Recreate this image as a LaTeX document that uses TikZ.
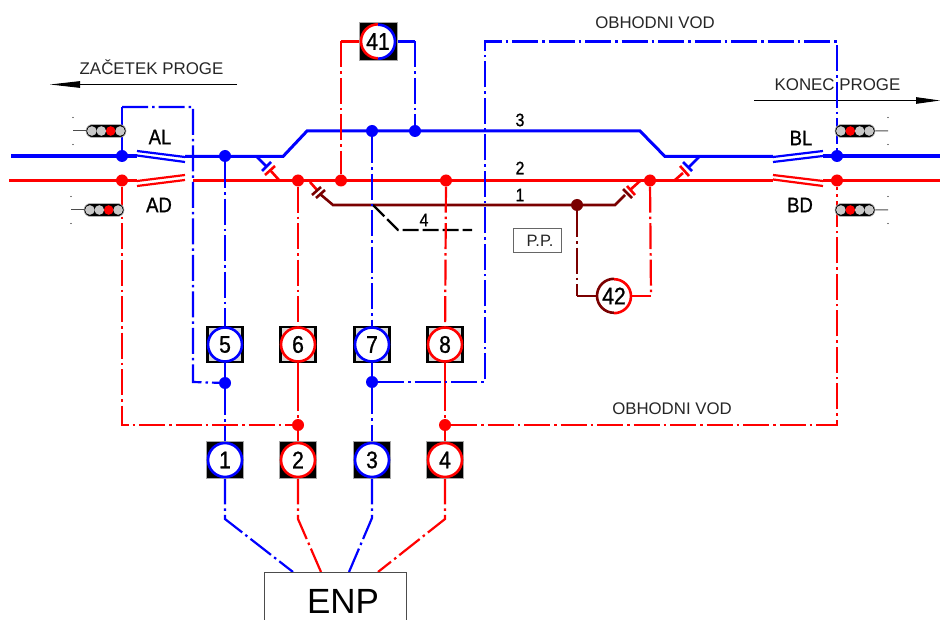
\documentclass[tikz,border=0pt]{standalone}
\usepackage{fontspec}
\setmainfont{Liberation Sans}
\newfontfamily\lbl[FakeStretch=0.88,FakeBold=1]{Liberation Sans}
\usetikzlibrary{arrows.meta,shapes.misc,backgrounds}
\definecolor{tb}{HTML}{0000FF}
\definecolor{tr}{HTML}{FF0000}
\definecolor{td}{HTML}{7A0000}
\definecolor{lamp}{HTML}{C8C8C8}
\tikzset{
  x=1pt,y=-1pt,
  feed/.style={line width=2.2pt,dash pattern=on 26pt off 4pt on 2.5pt off 4pt},
  wire/.style={line width=2.2pt},
  track/.style={line width=3pt,line join=miter},
  heavy/.style={line width=4.5pt},
  dbl/.style={line width=2.2pt},
  joint/.style={line width=2.6pt},
  dot/.style={circle,inner sep=0pt,minimum size=12pt,fill=#1},
  padlow/.style={rectangle,minimum size=37pt,inner sep=0pt,fill=black,draw=gray!70,line width=.7pt},
  padhigh/.style={rectangle,minimum size=35pt,inner sep=0pt,fill=white!85!black,draw=black,line width=2.4pt},
  ring/.style={circle,minimum size=34pt,inner sep=0pt,fill=white,draw=#1,line width=2.6pt,font=\lbl\fontsize{24}{24}\selectfont},
  bare/.style={circle,minimum size=34pt,inner sep=0pt,fill=white,font=\lbl\fontsize{24}{24}\selectfont},
  captext/.style={font=\fontsize{16.9}{17}\selectfont,text=black!85,inner sep=0pt},
  vod/.style={font=\fontsize{16.8}{17}\selectfont,text=black!85,inner sep=0pt},
  tag/.style={font=\lbl\fontsize{21}{21}\selectfont,inner sep=0pt},
  num/.style={font=\lbl\fontsize{18}{18}\selectfont,inner sep=0pt},
  body/.style={rounded rectangle,minimum width=40pt,minimum height=13pt,inner sep=0pt,fill=black,draw=gray!60,line width=.6pt},
  bulb/.style={circle,minimum size=9.6pt,inner sep=0pt,fill=#1},
  stem/.style={line width=1pt,draw=black!70},
}
% name, centre x, centre y, red lamp position, first lamp offset, mast x
\newcommand{\mysignal}[6]{%
  \node[body] (#1) at (#2,#3) {};
  \foreach \k in {0,1,2,3}{
    \pgfmathsetmacro{\lx}{#5+9.4*\k}
    \ifnum\k=#4\relax
      \node[bulb=tr] at ([xshift=\lx pt]#1.center) {};
    \else
      \node[bulb=lamp] at ([xshift=\lx pt]#1.center) {};
    \fi
  }
  \coordinate (#1m) at (#6,#3);
  \draw[stem] (#1) -- (#1m);
  \fill ([yshift=13.5pt]#1m) circle (.6pt) ([yshift=-13.5pt]#1m) circle (.6pt);
}
\begin{document}
\begin{tikzpicture}
\useasboundingbox (0,0) rectangle (940,620);

% ---- dots
\node[dot=tb] (dAL) at (122,156) {};
\node[dot=tb] (d5t) at (225,156) {};
\node[dot=tb] (d7t) at (372,131) {};
\node[dot=tb] (d41) at (415,131) {};
\node[dot=tb] (dBL) at (837,156) {};
\node[dot=tr] (dAD) at (122,180.5) {};
\node[dot=tr] (d6t) at (298,180.5) {};
\node[dot=tr] (d41r) at (341,180.5) {};
\node[dot=tr] (d8t) at (446,180.5) {};
\node[dot=tr] (d42r) at (650,180.5) {};
\node[dot=tr] (dBD) at (837,180.5) {};
\node[dot=td] (d42) at (577,205) {};
\node[dot=tb] (d5b) at (225,383) {};
\node[dot=tb] (d7b) at (372,382) {};
\node[dot=tr] (d6b) at (298,425) {};
\node[dot=tr] (d8b) at (445,425) {};

% ---- pads and numbered circles
\foreach \n/\x/\c in {5/225/tb,6/298/tr,7/372/tb,8/445/tr}{
  \node[padhigh] (s\n) at (\x,344.5) {};
  \node[ring=\c] (n\n) at (\x,344.5) {\n};
}
\foreach \n/\x/\c in {1/225/tb,2/298/tr,3/372/tb,4/445/tr}{
  \node[padlow] (s\n) at (\x,460) {};
  \node[ring=\c] (n\n) at (\x,460) {\n};
}
\node[padlow,minimum size=38pt] (s41) at (378,41.5) {};
\node[bare] (n41) at (378,41.5) {41};
\draw[tr,line width=2.6pt] (n41.north) arc[start angle=90,end angle=270,radius=17pt];
\draw[tb,line width=2.6pt] (n41.south) arc[start angle=-90,end angle=90,radius=17pt];
\node[bare] (n42) at (614,296) {42};
\draw[td,line width=2.6pt] (n42.north) arc[start angle=90,end angle=270,radius=17pt];
\draw[tr,line width=2.6pt] (n42.south) arc[start angle=-90,end angle=90,radius=17pt];

% ---- ENP box
\node[fill=white,minimum width=142pt,minimum height=48pt,inner sep=0pt,anchor=north west] (enp) at (264,572) {};
\draw[draw=black!70,line width=.9pt] (enp.south west) -- (enp.north west) -- (enp.north east) -- (enp.south east);
\node[inner sep=0pt,font=\fontsize{35}{35}\selectfont] (enpt) at (343,601.5) {ENP};

% ---- P.P.
\node[draw=black!60,line width=.9pt,minimum width=48pt,minimum height=24pt,inner sep=0pt] (pp) at (537,240) {};
\node[inner sep=0pt,font=\fontsize{16.5}{17}\selectfont,text=black!85] (ppt) at (540,241) {P.P.};

% ---- signals
\mysignal{sAL}{106}{131}{2}{-14.1}{73}
\mysignal{sAD}{104}{210}{2}{-14.1}{71}
\mysignal{sBL}{855}{131}{1}{-14.1}{888}
\mysignal{sBD}{855}{210}{1}{-14.1}{888}

% ---- captions
\node[captext] (tz) at (151.5,67) {ZAČETEK PROGE};
\node[captext] (tk) at (837.5,84.5) {KONEC PROGE};
\node[vod] (v1) at (655,22.5) {OBHODNI VOD};
\node[vod] (v2) at (672,408.5) {OBHODNI VOD};
\node[tag] (AL) at (160,137) {AL};
\node[tag] (AD) at (159,205) {AD};
\node[tag] (BL) at (801,138) {BL};
\node[tag] (BD) at (800,205) {BD};
\node[num] (t3) at (520,120) {3};
\node[num] (t2) at (520,168) {2};
\node[num] (t1) at (520,195) {1};
\node[num] (t4) at (424,220) {4};

% ---- free ends
\coordinate (zr) at (237,84.5);
\coordinate (zl) at (50,84.5);
\coordinate (kl) at (754,100.5);
\coordinate (kr) at (940,100.5);
\coordinate (bL) at (11,156);
\coordinate (bLe) at (137,156);
\coordinate (bRe) at (823,156);
\coordinate (bR) at (940,156);
\coordinate (rL) at (9,180.5);
\coordinate (rLe) at (137,180.5);
\coordinate (rRe) at (823,180.5);
\coordinate (rR) at (940,180.5);
\coordinate (rm1) at (193,180.5);
\coordinate (rm2) at (773,180.5);

\begin{scope}[on background layer]
% arrows
\draw[line width=.9pt,-{Triangle[length=30pt,width=6.5pt]}] (zr) -- (zl);
\draw[line width=.9pt,-{Triangle[length=24pt,width=6.5pt]}] (kl) -- (kr);
% main tracks
\draw[heavy,tb] (bL) -- (bLe);
\draw[heavy,tb] (bRe) -- (bR);
\draw[track,tb] (185,156.5) -- (283,156.5) -- (307,131) -- (640,131) -- (665,156.5) -- (773,156.5);
\draw[track,tr] (rL) -- (rLe);
\draw[track,tr] (rm1) -- (rm2);
\draw[track,tr] (rRe) -- (rR);
\draw[dbl,tb] (137,151) -- (185,157);
\draw[dbl,tb] (137,155.5) -- (185,162);
\draw[dbl,tr] (137,181) -- (185,175);
\draw[dbl,tr] (137,186) -- (185,180);
\draw[dbl,tb] (773,157) -- (823,151);
\draw[dbl,tb] (773,162) -- (823,156);
\draw[dbl,tr] (773,175) -- (823,181);
\draw[dbl,tr] (773,179.5) -- (823,186);
% crossovers
\draw[joint,tb] (256,156) -- (267,167);
\draw[joint,tb] (262,171) -- (271,162);
\draw[joint,tr] (270,170) -- (279,180);
\draw[joint,tr] (265,175) -- (275,166);
\draw[joint,tb] (699,157) -- (688,168);
\draw[joint,tb] (683,162) -- (692,171);
\draw[joint,tr] (683,173) -- (675,180);
\draw[joint,tr] (680,166) -- (689,176);
\draw[joint,tr] (310,182) -- (317,190);
\draw[joint,td] (312,195) -- (321,187);
\draw[joint,td] (320,194) -- (333,205) -- (615,205) -- (625,195);
\draw[joint,td] (316,198) -- (325,190);
\draw[joint,td] (623,189) -- (632,198);
\draw[joint,tr] (627,186) -- (635,195);
\draw[joint,tr] (630,190) -- (640,181);
% track 4
\coordinate (t4a) at (373,205);
\coordinate (t4b) at (398,230);
\coordinate (t4c) at (472,230);
\draw[line width=2.2pt,dash pattern=on 16pt off 4pt] (t4a) -- (t4b) -- (t4c);
% feeders
\draw[wire,tb] (dAL) -- (122,107);
\draw[feed,tb] (122,107) -- (193,107) -- (193,382) -- (d5b);
\draw[feed,tb] (d5t) -- (s5);
\draw[wire,tb] (s5) -- (d5b);
\draw[feed,tb] (d5b) -- (n1);
\draw[feed,tb] (n1) -- (225,519) -- (293,572);
\draw[feed,tr] (d6t) -- (s6);
\draw[wire,tr] (s6) -- (298,385);
\draw[feed,tr] (298,385) -- (d6b);
\draw[wire,tr] (d6b) -- (n2);
\draw[feed,tr] (n2) -- (298,519) -- (321,572);
\draw[feed,tb] (d7t) -- (s7);
\draw[wire,tb] (s7) -- (d7b);
\draw[feed,tb] (d7b) -- (n3);
\draw[feed,tb] (n3) -- (372,518) -- (349,572);
\draw[feed,tr] (d8t) -- (s8);
\draw[wire,tr] (s8) -- (445,385);
\draw[feed,tr] (445,385) -- (d8b);
\draw[wire,tr] (d8b) -- (n4);
\draw[feed,tr] (n4) -- (445,519) -- (378,572);
% bypass lines
\draw[wire,tb] (n41) -- (415,41.5);
\draw[feed,tb] (415,41.5) -- (d41);
\draw[wire,tr] (n41) -- (341,41.5);
\draw[feed,tr] (341,41.5) -- (d41r);
\draw[feed,tb] (d7b) -- (485,382) -- (485,41.5) -- (837,41.5) -- (dBL);
\draw[feed,tr] (dAD) -- (122,425) -- (d6b);
\draw[feed,tr] (d8b) -- (837,425) -- (dBD);
\draw[feed,td] (d42) -- (577,296);
\draw[wire,td] (577,296) -- (n42);
\draw[feed,tr] (d42r) -- (651,296);
\draw[wire,tr] (651,296) -- (n42);
\end{scope}
\end{tikzpicture}
\end{document}
